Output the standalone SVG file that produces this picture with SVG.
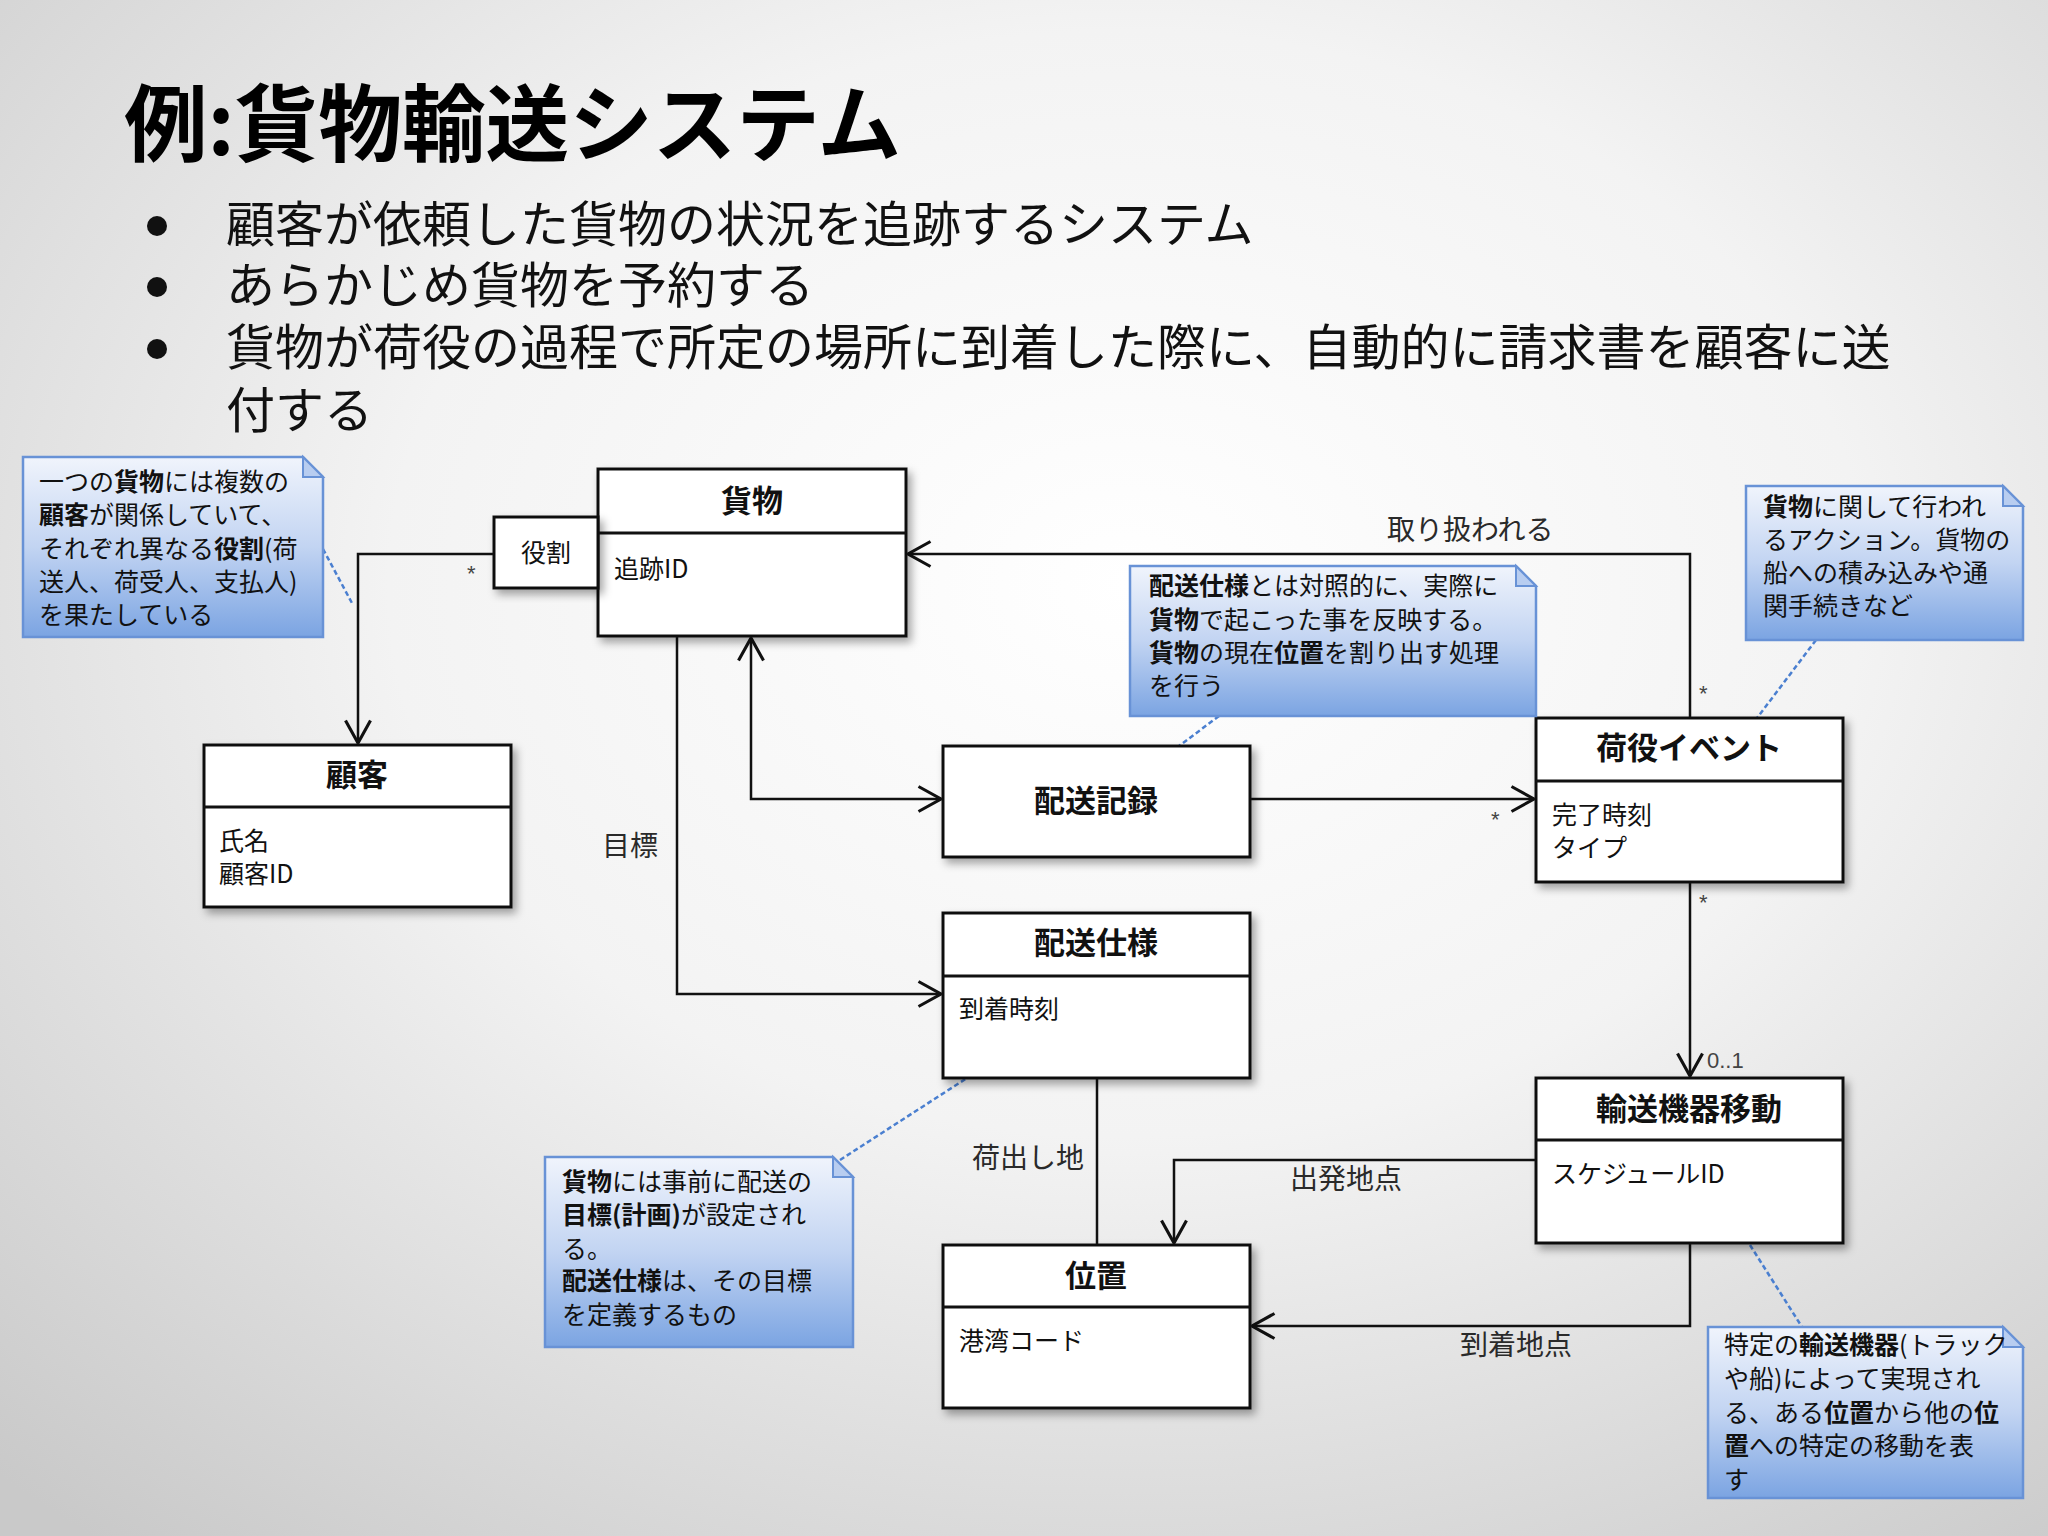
<svg xmlns="http://www.w3.org/2000/svg" width="2048" height="1536" viewBox="0 0 2048 1536">
<defs>
<radialGradient id="bg" cx="0.55" cy="0.38" r="0.8">
<stop offset="0" stop-color="#ffffff"/>
<stop offset="0.45" stop-color="#f3f3f3"/>
<stop offset="1" stop-color="#c9c9c9"/>
</radialGradient>
<linearGradient id="noteg" x1="0" y1="0" x2="0" y2="1">
<stop offset="0" stop-color="#f0f4fc"/>
<stop offset="0.5" stop-color="#c2d4f2"/>
<stop offset="1" stop-color="#7ba4e2"/>
</linearGradient>
<filter id="sh" x="-10%" y="-10%" width="130%" height="130%">
<feDropShadow dx="4" dy="5" stdDeviation="4" flood-color="#000" flood-opacity="0.35"/>
</filter>
<marker id="arr" markerUnits="userSpaceOnUse" markerWidth="30" markerHeight="30" viewBox="-20 -12 24 24" refX="0" refY="0" orient="auto-start-reverse">
<path d="M-18,-10 L0,0 L-18,10" fill="none" stroke="#111" stroke-width="2.5"/>
</marker>
<style>
.box{fill:#fff;stroke:#111;stroke-width:3;filter:url(#sh)}
.div{stroke:#111;stroke-width:3}
.ttl{font-family:"Noto Sans CJK JP","Noto Sans",sans-serif;font-weight:bold;font-size:31px;fill:#111;text-anchor:middle}
.att{font-family:"Noto Sans CJK JP","Noto Sans",sans-serif;font-size:25px;fill:#111}
.lbl{font-family:"Noto Sans CJK JP","Noto Sans",sans-serif;font-size:28px;fill:#2a2a2a}
.mul{font-family:"Liberation Sans",sans-serif;font-size:22px;fill:#444}
.con{fill:none;stroke:#111;stroke-width:2.5}
.note{fill:url(#noteg);stroke:#6892d6;stroke-width:2.5}
.fold{fill:#b8cdf0;stroke:#6892d6;stroke-width:2}
.nt{font-family:"Noto Sans CJK JP","Noto Sans",sans-serif;font-size:25px;fill:#111}
.dash{stroke:#4a7fd0;stroke-width:2.5;stroke-dasharray:5 3;fill:none}
.b{font-weight:bold}
</style>
</defs>
<rect x="0" y="0" width="2048" height="1536" fill="url(#bg)"/>

<g id="title">
<text x="124" y="155" font-family="Noto Sans CJK JP,Noto Sans,sans-serif" font-weight="bold" font-size="84" fill="#000" textLength="777" lengthAdjust="spacingAndGlyphs">例:貨物輸送システム</text>
</g>
<g id="bullets" font-family="Noto Sans CJK JP,Noto Sans,sans-serif" font-size="49" fill="#111">
<circle cx="157" cy="226" r="10" fill="#111"/>
<circle cx="157" cy="287" r="10" fill="#111"/>
<circle cx="157" cy="349" r="10" fill="#111"/>
<text x="226" y="242">顧客が依頼した貨物の状況を追跡するシステム</text>
<text x="226" y="303">あらかじめ貨物を予約する</text>
<text x="226" y="365">貨物が荷役の過程で所定の場所に到着した際に、自動的に請求書を顧客に送</text>
<text x="226" y="428">付する</text>
</g>

<g id="connectors">
<path class="con" d="M494,554 H358 V743" marker-end="url(#arr)"/>
<path class="con" d="M1690,718 V554 H908" marker-end="url(#arr)"/>
<path class="con" d="M751,638 V799 H941" marker-start="url(#arr)" marker-end="url(#arr)"/>
<path class="con" d="M1250,799 H1534" marker-end="url(#arr)"/>
<path class="con" d="M677,636 V994 H941" marker-end="url(#arr)"/>
<path class="con" d="M1690,882 V1076" marker-end="url(#arr)"/>
<path class="con" d="M1097,1078 V1245"/>
<path class="con" d="M1536,1160 H1174 V1243" marker-end="url(#arr)"/>
<path class="con" d="M1690,1243 V1326 H1252" marker-end="url(#arr)"/>
<text class="mul" x="467" y="581">*</text>
<text class="mul" x="1699" y="701">*</text>
<text class="mul" x="1491" y="827">*</text>
<text class="mul" x="1699" y="910">*</text>
<text class="mul" x="1707" y="1068" font-size="29">0..1</text>
<text class="lbl" x="1387" y="540">取り扱われる</text>
<text class="lbl" x="602" y="856">目標</text>
<text class="lbl" x="972" y="1168">荷出し地</text>
<text class="lbl" x="1290" y="1189">出発地点</text>
<text class="lbl" x="1460" y="1355">到着地点</text>
<line class="dash" x1="323" y1="549" x2="353" y2="605"/>
<line class="dash" x1="1219" y1="716" x2="1179" y2="746"/>
<line class="dash" x1="1816" y1="640" x2="1757" y2="718"/>
<line class="dash" x1="840" y1="1160" x2="967" y2="1078"/>
<line class="dash" x1="1750" y1="1245" x2="1802" y2="1327"/>
</g>

<g id="node-kamotsu">
<rect class="box" x="598" y="469" width="308" height="167"/>
<line class="div" x1="598" y1="533" x2="906" y2="533"/>
<text class="ttl" x="752" y="512">貨物</text>
<text class="att" x="614" y="578">追跡ID</text>
</g>
<g id="node-yakuwari">
<rect class="box" x="494" y="517" width="104" height="71"/>
<text class="att" x="546" y="562" text-anchor="middle">役割</text>
</g>
<g id="node-kokyaku">
<rect class="box" x="204" y="745" width="307" height="162"/>
<line class="div" x1="204" y1="807" x2="511" y2="807"/>
<text class="ttl" x="357" y="786">顧客</text>
<text class="att" x="219" y="850">氏名</text>
<text class="att" x="219" y="883">顧客ID</text>
</g>
<g id="node-haisokiroku">
<rect class="box" x="943" y="746" width="307" height="111"/>
<text class="ttl" x="1096" y="812">配送記録</text>
</g>
<g id="node-haisoshiyo">
<rect class="box" x="943" y="913" width="307" height="165"/>
<line class="div" x1="943" y1="976" x2="1250" y2="976"/>
<text class="ttl" x="1096" y="954">配送仕様</text>
<text class="att" x="959" y="1018">到着時刻</text>
</g>
<g id="node-ichi">
<rect class="box" x="943" y="1245" width="307" height="163"/>
<line class="div" x1="943" y1="1307" x2="1250" y2="1307"/>
<text class="ttl" x="1096" y="1287">位置</text>
<text class="att" x="959" y="1350">港湾コード</text>
</g>
<g id="node-niyakuevent">
<rect class="box" x="1536" y="718" width="307" height="164"/>
<line class="div" x1="1536" y1="781" x2="1843" y2="781"/>
<text class="ttl" x="1689" y="759">荷役イベント</text>
<text class="att" x="1552" y="824">完了時刻</text>
<text class="att" x="1552" y="857">タイプ</text>
</g>
<g id="node-yusokiki">
<rect class="box" x="1536" y="1078" width="307" height="165"/>
<line class="div" x1="1536" y1="1140" x2="1843" y2="1140"/>
<text class="ttl" x="1689" y="1120">輸送機器移動</text>
<text class="att" x="1552" y="1183">スケジュールID</text>
</g>

<g id="note1">
<path class="note" d="M23,457 H303 L323,477 V637 H23 Z"/>
<path class="fold" d="M303,457 V477 H323 Z"/>
<text class="nt" x="39" y="491">一つの<tspan class="b">貨物</tspan>には複数の</text>
<text class="nt" x="39" y="524"><tspan class="b">顧客</tspan>が関係していて、</text>
<text class="nt" x="39" y="558">それぞれ異なる<tspan class="b">役割</tspan>(荷</text>
<text class="nt" x="39" y="591">送人、荷受人、支払人)</text>
<text class="nt" x="39" y="624">を果たしている</text>
</g>
<g id="note2">
<path class="note" d="M1130,566 H1516 L1536,586 V716 H1130 Z"/>
<path class="fold" d="M1516,566 V586 H1536 Z"/>
<text class="nt" x="1149" y="595"><tspan class="b">配送仕様</tspan>とは対照的に、実際に</text>
<text class="nt" x="1149" y="629"><tspan class="b">貨物</tspan>で起こった事を反映する。</text>
<text class="nt" x="1149" y="662"><tspan class="b">貨物</tspan>の現在<tspan class="b">位置</tspan>を割り出す処理</text>
<text class="nt" x="1149" y="695">を行う</text>
</g>
<g id="note3">
<path class="note" d="M1746,486 H2003 L2023,506 V640 H1746 Z"/>
<path class="fold" d="M2003,486 V506 H2023 Z"/>
<text class="nt" x="1763" y="516"><tspan class="b">貨物</tspan>に関して行われ</text>
<text class="nt" x="1763" y="549">るアクション。貨物の</text>
<text class="nt" x="1763" y="582">船への積み込みや通</text>
<text class="nt" x="1763" y="615">関手続きなど</text>
</g>
<g id="note4">
<path class="note" d="M545,1157 H833 L853,1177 V1347 H545 Z"/>
<path class="fold" d="M833,1157 V1177 H853 Z"/>
<text class="nt" x="562" y="1191"><tspan class="b">貨物</tspan>には事前に配送の</text>
<text class="nt" x="562" y="1224"><tspan class="b">目標(計画)</tspan>が設定され</text>
<text class="nt" x="562" y="1258">る。</text>
<text class="nt" x="562" y="1290"><tspan class="b">配送仕様</tspan>は、その目標</text>
<text class="nt" x="562" y="1324">を定義するもの</text>
</g>
<g id="note5">
<path class="note" d="M1708,1327 H2003 L2023,1347 V1498 H1708 Z"/>
<path class="fold" d="M2003,1327 V1347 H2023 Z"/>
<text class="nt" x="1724" y="1354">特定の<tspan class="b">輸送機器</tspan>(トラック</text>
<text class="nt" x="1724" y="1388">や船)によって実現され</text>
<text class="nt" x="1724" y="1422">る、ある<tspan class="b">位置</tspan>から他の<tspan class="b">位</tspan></text>
<text class="nt" x="1724" y="1455"><tspan class="b">置</tspan>への特定の移動を表</text>
<text class="nt" x="1724" y="1489">す</text>
</g>
</svg>
